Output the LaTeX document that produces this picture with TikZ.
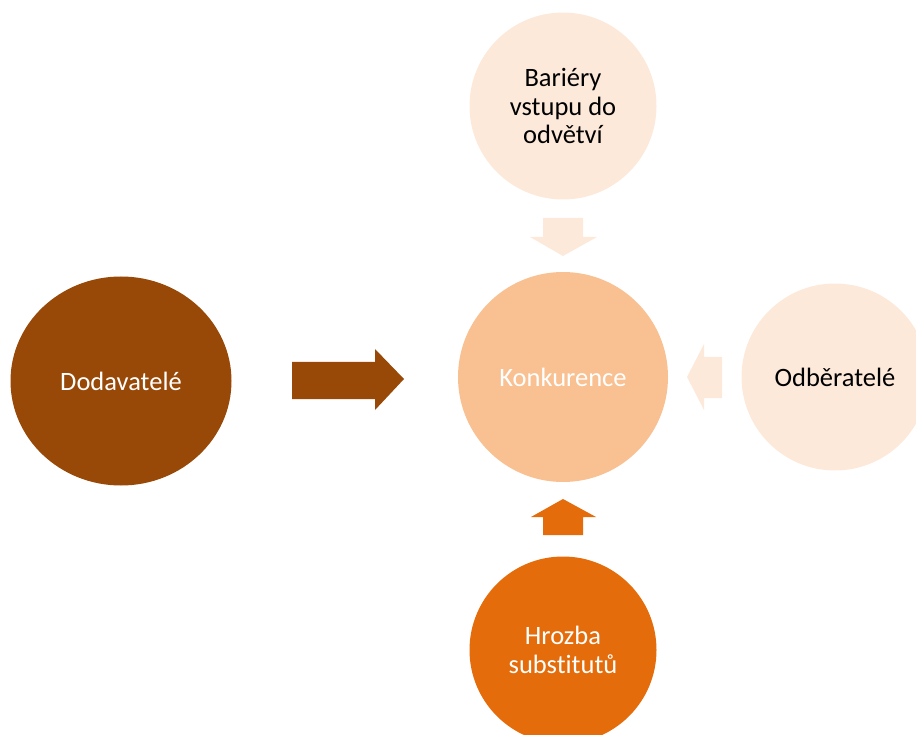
\documentclass[tikz,border=0pt]{standalone}
\usepackage{fontspec}
\setmainfont[Ligatures=NoCommon]{Carlito}
\usetikzlibrary{positioning}
\usetikzlibrary{shapes.geometric}
\definecolor{brownD}{RGB}{152,72,7}
\definecolor{orangeD}{RGB}{228,108,10}
\definecolor{peach}{RGB}{249,193,146}
\definecolor{peachL}{RGB}{253,233,218}
\tikzset{
  force/.style={circle, minimum size=187pt, inner sep=0, align=center,
    font=\fontsize{26.5}{28.5}\selectfont},
  blockarrow/.style={draw=none}
}

\begin{document}
\begin{tikzpicture}[x=1pt,y=-1pt]
  \useasboundingbox (0,0) rectangle (916,735);

  \node[ellipse, minimum width=221pt, minimum height=209pt, inner sep=0,
        fill=brownD, text=white, font=\fontsize{26.5}{28.5}\selectfont]
        (dodav) at (121,381) {Dodavatelé};
  \node[force, minimum size=210pt, fill=peach, text=white] (konk) at (563,377) {Konkurence};
  \node[force, fill=peachL] (barier) at (563,106) {Bariéry\\vstupu do\\odvětví};
  \node[force, fill=peachL] (odber) at (835,377) {Odběratelé};
  \node[force, fill=orangeD, text=white] (hrozba) at (563,650) {Hrozba\\substitutů};

  % block arrows
  \fill[blockarrow, brownD] (292,362) -- (375,362) -- (375,349) -- (404,379)
    -- (375,410) -- (375,399) -- (292,399) -- cycle;
  \fill[blockarrow, peachL] (543,218) -- (583,218) -- (583,237) -- (597,237)
    -- (563,256) -- (530,237) -- (543,237) -- cycle;
  \fill[blockarrow, peachL] (722,357) -- (704,357) -- (704,344) -- (687,377)
    -- (704,410) -- (704,398) -- (722,398) -- cycle;
  \fill[blockarrow, orangeD] (543,535) -- (543,517) -- (531,517) -- (563,499)
    -- (596,517) -- (583,517) -- (583,535) -- cycle;
\end{tikzpicture}
\end{document}
